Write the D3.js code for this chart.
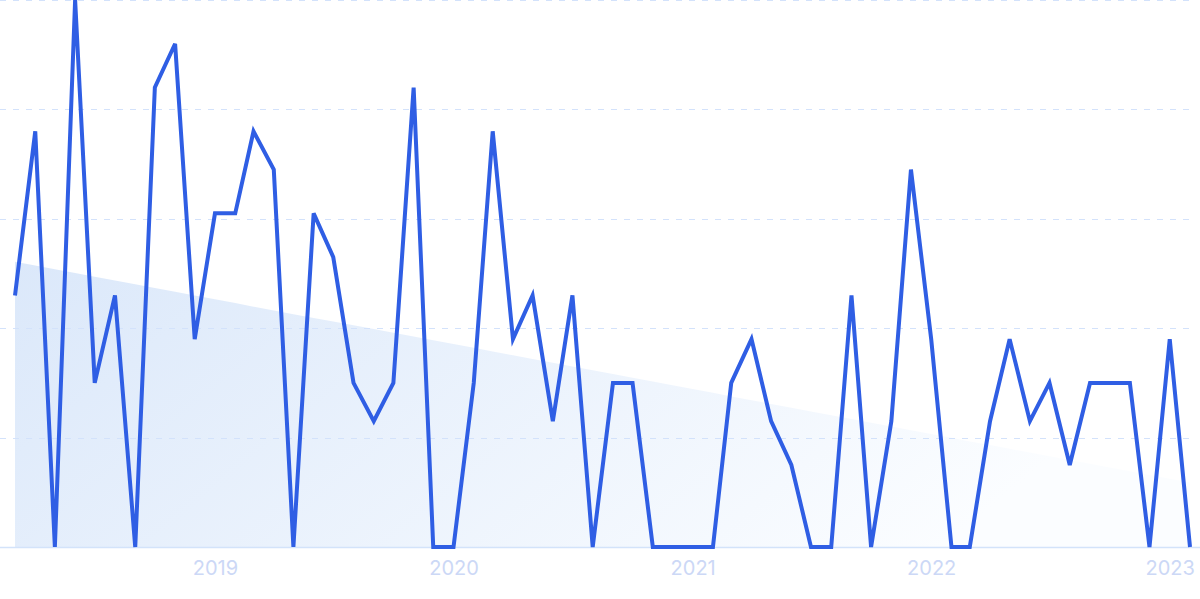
<!DOCTYPE html>
<html><head><meta charset="utf-8">
<script src="https://cdn.jsdelivr.net/npm/d3@7/dist/d3.min.js"></script>
<style>html,body{margin:0;padding:0;background:#fff;overflow:hidden}svg{display:block}</style>
</head><body>
<svg id="chart" width="1200" height="599"></svg>
<script>
// Monthly values, Mar 2018 .. Feb 2023
const startYear = 2018, startMonth = 2; // March (0-based)
const values = [46,76,0,100,30,46,0,84,92,38,
                61,61,76,69,0,61,53,30,23,30,
                84,0,0,30,76,38,46,23,46,0,
                30,30,0,0,0,0,30,38,23,15,
                0,0,46,0,23,69,38,0,0,23,
                38,23,30,15,30,30,30,0,38,0];
const tickYears = [2019,2020,2021,2022,2023];
const gridValues = [0,20,40,60,80,100];

const dates = values.map((v,i)=>new Date(startYear, startMonth+i, 1));
const data = values.map((v,i)=>({date:dates[i], value:v, i}));

const M = {left:15, right:1190, top:0, bottom:547};
const svg = d3.select('#chart');

const x = d3.scaleTime().domain([dates[0], dates[dates.length-1]]).range([M.left,M.right]);
const y = d3.scaleLinear().domain([0,100]).range([M.bottom, M.top]);

// gradient
const defs = svg.append('defs');
const grad = defs.append('linearGradient').attr('id','trendGrad')
  .attr('x1','0%').attr('y1','0%').attr('x2','100%').attr('y2','30%');
grad.append('stop').attr('offset','0%').attr('stop-color','#dbe8fa');
grad.append('stop').attr('offset','100%').attr('stop-color','#fbfdff');

// linear regression trend
const mx = d3.mean(data, d=>d.i), my = d3.mean(values);
const slope = d3.sum(data, d=>(d.i-mx)*(d.value-my)) / d3.sum(data, d=>(d.i-mx)**2);
const icpt = my - slope*mx;
const trend = data.map(d=>({date:d.date, value: icpt + slope*d.i}));

svg.append('path').datum(trend)
  .attr('fill','url(#trendGrad)')
  .attr('d', d3.area().x(d=>x(d.date)).y0(y(0)).y1(d=>y(d.value)));

// gridlines
svg.append('g').selectAll('line').data(gridValues.filter(v=>v>0)).join('line')
  .attr('x1',0).attr('x2',1190)
  .attr('y1',d=>Math.round(y(d))+0.5).attr('y2',d=>Math.round(y(d))+0.5)
  .attr('stroke','#d3e2fb').attr('stroke-width',1).attr('stroke-dasharray','6,7');

// baseline
svg.append('line').attr('x1',0).attr('x2',1200)
  .attr('y1',y(0)+0.5).attr('y2',y(0)+0.5)
  .attr('stroke','#d3e3fa').attr('stroke-width',1.5);

// x axis labels
const xAxis = d3.axisBottom(x)
  .tickValues(tickYears.map(yy=>new Date(yy,0,1)))
  .tickFormat(d3.timeFormat('%Y')).tickSize(0).tickPadding(14);
const gx = svg.append('g').attr('transform',`translate(0,${M.bottom})`).call(xAxis);
gx.select('.domain').remove();
gx.selectAll('text').attr('fill','#ccd8f6').attr('font-size','20px')
  .attr('font-family','Inter, "Noto Sans", sans-serif');

// line
svg.append('path').datum(data)
  .attr('fill','none').attr('stroke','#2f5ee4').attr('stroke-width',4)
  .attr('stroke-linejoin','miter').attr('stroke-miterlimit',4)
  .attr('d', d3.line().x(d=>x(d.date)).y(d=>y(d.value)));
</script>
</body></html>
